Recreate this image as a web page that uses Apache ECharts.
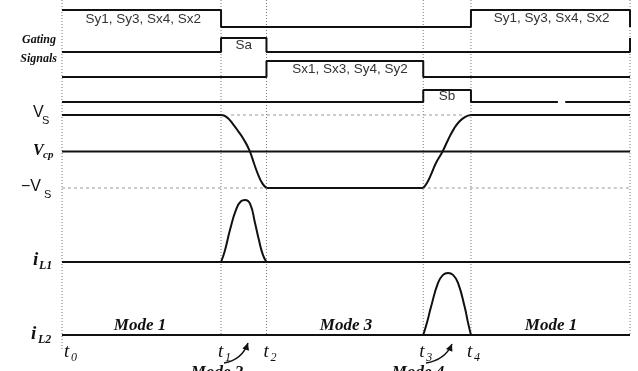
<!DOCTYPE html>
<html><head><meta charset="utf-8">
<script src="https://cdn.jsdelivr.net/npm/echarts@6/dist/echarts.min.js"></script>
<style>html,body{margin:0;padding:0;background:#fff}#c{width:638px;height:371px}</style>
</head><body><div id="c"></div>
<script>
// ---- data (time axis: t0 = 0, end of period = 100) ----
const eventTimes = [0, 28.0, 36.0, 63.6, 72.0];
const eventNames = ['0', '1', '2', '3', '4'];
const endTime = 100;

// gating signals, [time, level 0/1]
const gateS1 = [[0,1],[28,1],[28,0],[72,0],[72,1],[100,1],[100,0]];
const gateSa = [[0,0],[28,0],[28,1],[36,1],[36,0],[100,0],[100,1]];
const gateS3 = [[0,0],[36,0],[36,1],[63.6,1],[63.6,0],[100,0]];
const gateSbA = [[0,0],[63.6,0],[63.6,1],[72,1],[72,0],[87.3,0]];
const gateSbB = [[88.6,0],[100,0]];
const gateText = ['Sy1, Sy3, Sx4, Sx2', 'Sa', 'Sx1, Sx3, Sy4, Sy2', 'Sb', 'Sy1, Sy3, Sx4, Sx2'];
const gateTextTime = [14.3, 32, 50.7, 67.8, 86.2];

// voltage, normalized: +1 = Vs, 0 = Vcp, -1 = -Vs
const vFlat1 = [[0,1],[28,1]];
const vFall = [[28,1],[28.6,0.98],[29.3,0.9],[30.1,0.75],[31.0,0.56],[32.0,0.33],[33.0,0.03],[33.9,-0.37],[34.6,-0.66],[35.3,-0.88],[36,-1]];
const vFlat2 = [[36,-1],[63.6,-1]];
const vRise = [[63.6,-1],[64.3,-0.85],[65.0,-0.62],[65.8,-0.33],[67.0,0],[68.0,0.33],[69.0,0.62],[70.0,0.83],[71.0,0.95],[72,1]];
const vFlat3 = [[72,1],[100,1]];
const vcpLine = [[0,0],[100,0]];
const vsDash = [[29.75,1],[70.95,1]];
const negVsDash1 = [[0,-1],[36,-1]];
const negVsDash2 = [[64.4,-1],[100,-1]];

// currents, normalized to peak
const iL1Base = [[0,0],[100,0]];
const iL1Pulse = [[28,0],[28.7,0.19],[29.58,0.52],[30.63,0.84],[31.51,0.98],[32.22,1],[33.1,0.94],[33.98,0.63],[34.68,0.35],[35.39,0.11],[36,0]];
const iL2Base = [[0,0],[100,0]];
const iL2Pulse = [[63.6,0],[64.26,0.2],[64.96,0.45],[66.2,0.84],[67.08,0.97],[67.96,1],[68.84,0.97],[69.72,0.84],[70.9,0.45],[71.48,0.2],[72,0]];

// ---- layout ----
const lanes = {
  s1: {base: 27, amp: 17}, sa: {base: 52, amp: 14}, s3: {base: 77, amp: 16}, sb: {base: 102, amp: 12},
  v: {base: 151.5, amp: 36.5}, i1: {base: 262, amp: 62}, i2: {base: 335, amp: 62}
};
function map(arr, lane) { return arr.map(p => [p[0], lane.base - p[1] * lane.amp]); }
const INK = '#111';
function solid(data, lane, smooth) {
  return {type: 'line', data: map(data, lane), symbol: 'none', smooth: smooth ? 0.5 : false,
    lineStyle: {color: INK, width: 2}, animation: false, silent: true, z: 3};
}
function dashed(data, lane) {
  return {type: 'line', data: map(data, lane), symbol: 'none',
    lineStyle: {color: '#999', width: 1, type: [3, 3]}, animation: false, silent: true, z: 2};
}

const series = [];
const vAll = eventTimes.concat([endTime]);
vAll.forEach((t, k) => {
  series.push({type: 'line', data: [[t, 0], [t, k === 0 ? 350 : 336]], symbol: 'none',
    lineStyle: {color: '#777', width: 1, type: [1, 2]}, animation: false, silent: true, z: 1});
});
series.push(solid(gateS1, lanes.s1), solid(gateSa, lanes.sa), solid(gateS3, lanes.s3),
  solid(gateSbA, lanes.sb), solid(gateSbB, lanes.sb));
series.push(solid(vFlat1, lanes.v), solid(vFall, lanes.v, true), solid(vFlat2, lanes.v),
  solid(vRise, lanes.v, true), solid(vFlat3, lanes.v), solid(vcpLine, lanes.v));
series.push(dashed(vsDash, lanes.v), dashed(negVsDash1, lanes.v), dashed(negVsDash2, lanes.v));
series.push(solid(iL1Base, lanes.i1), solid(iL1Pulse, lanes.i1, true),
  solid(iL2Base, lanes.i2), solid(iL2Pulse, lanes.i2, true));

const chart = echarts.init(document.getElementById('c'), null, {renderer: 'canvas'});
chart.setOption({
  backgroundColor: '#fff',
  grid: {left: 62, right: 8, top: 0, bottom: 0},
  xAxis: {type: 'value', min: 0, max: endTime, show: false},
  yAxis: {type: 'value', min: 0, max: 371, inverse: true, show: false},
  series: series
});

const px = t => chart.convertToPixel({xAxisIndex: 0}, t);
const SERIF = '"Liberation Serif", "DejaVu Serif", serif';
const SANS = '"Liberation Sans", Arial, sans-serif';
const g = [];
function txt(x, y, text, font, align, va, fill) {
  g.push({type: 'text', x: x, y: y, silent: true,
    style: {text: text, font: font, fill: fill || INK, align: align || 'left', verticalAlign: va || 'middle'}});
}
// gate texts
const gateLaneY = [19, 45, 69, 96, 18];
gateText.forEach((s, k) => txt(px(gateTextTime[k]), gateLaneY[k], s, '13.5px ' + SANS, 'center', 'middle', '#333'));
// left labels
txt(56, 40, 'Gating', 'bold italic 12px ' + SERIF, 'right', 'middle');
txt(57, 59, 'Signals', 'bold italic 12px ' + SERIF, 'right', 'middle');
txt(33, 113, 'V', '16px ' + SANS, 'left', 'middle');
txt(42, 121, 'S', '11px ' + SANS, 'left', 'middle');
txt(33, 151, 'V', 'bold italic 16px ' + SERIF, 'left', 'middle');
txt(43, 155, 'cp', 'bold italic 11px ' + SERIF, 'left', 'middle');
txt(21, 187, '\u2212V', '16px ' + SANS, 'left', 'middle');
txt(44, 195, 'S', '11px ' + SANS, 'left', 'middle');
txt(33, 260, 'i', 'bold italic 19px ' + SERIF, 'left', 'middle');
txt(39, 266, 'L1', 'bold italic 12px ' + SERIF, 'left', 'middle');
txt(31, 334, 'i', 'bold italic 19px ' + SERIF, 'left', 'middle');
txt(38, 340, 'L2', 'bold italic 12px ' + SERIF, 'left', 'middle');
// time labels
const tOffsets = [2, -3, -3, -4, -4];
eventTimes.forEach((t, k) => {
  const x = px(t) + tOffsets[k];
  txt(x, 352, 't', 'italic 19px ' + SERIF, 'left', 'middle');
  txt(x + 7, 358, eventNames[k], 'italic 12px ' + SERIF, 'left', 'middle');
});
// mode labels
txt(140, 326, 'Mode 1', 'bold italic 17px ' + SERIF, 'center', 'middle');
txt(346, 326, 'Mode 3', 'bold italic 17px ' + SERIF, 'center', 'middle');
txt(551, 326, 'Mode 1', 'bold italic 17px ' + SERIF, 'center', 'middle');
txt(217, 364, 'Mode 2', 'bold italic 17px ' + SERIF, 'center', 'top');
txt(418, 364, 'Mode 4', 'bold italic 17px ' + SERIF, 'center', 'top');
// arrows
function arrow(x1, y1, cx, cy, x2, y2) {
  g.push({type: 'bezierCurve', silent: true, shape: {x1: x1, y1: y1, cpx1: cx, cpy1: cy, x2: x2, y2: y2},
    style: {stroke: INK, lineWidth: 1.5, fill: null}});
  const ang = Math.atan2(y2 - cy, x2 - cx), L = 7, W = 3.5;
  const bx = x2 - L * Math.cos(ang), by = y2 - L * Math.sin(ang);
  g.push({type: 'polygon', silent: true, shape: {points: [[x2, y2],
    [bx + W * Math.sin(ang), by - W * Math.cos(ang)], [bx - W * Math.sin(ang), by + W * Math.cos(ang)]]},
    style: {fill: INK}});
}
arrow(224, 363, 242, 360, 248, 343);
arrow(426, 363, 445, 360, 452, 344);
chart.setOption({graphic: g});
</script></body></html>
